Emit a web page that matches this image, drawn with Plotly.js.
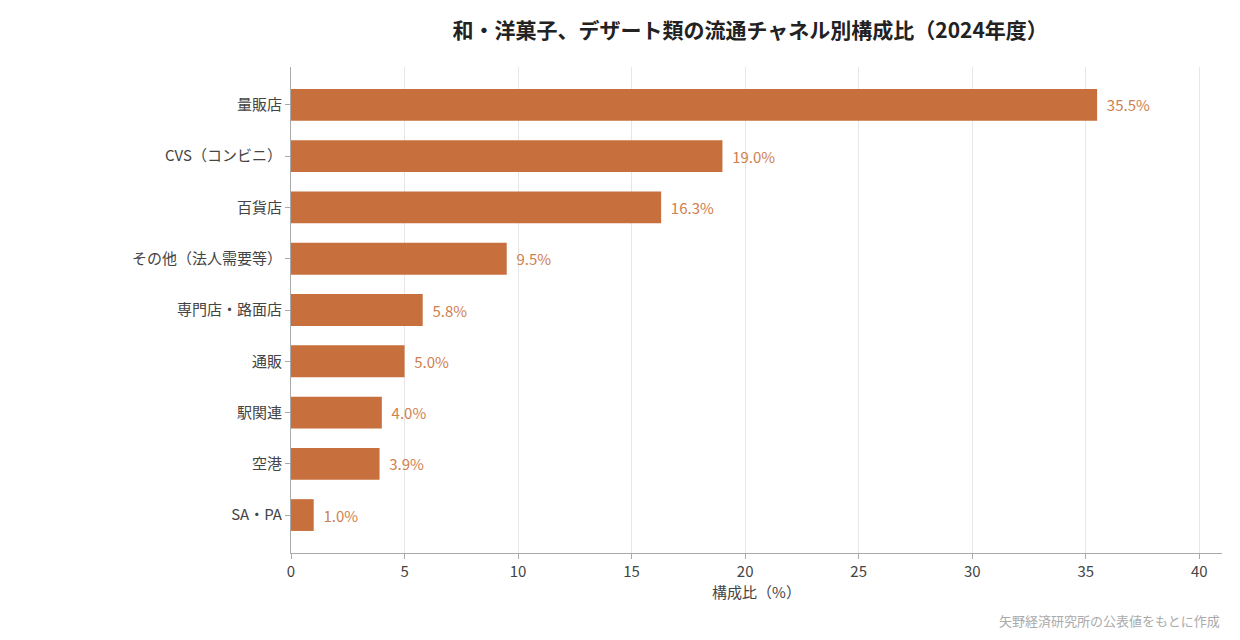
<!DOCTYPE html>
<html>
<head>
<meta charset="utf-8">
<script src="https://cdn.plot.ly/plotly-3.0.1.min.js"></script>
</head>
<body style="margin:0">
<div id="myDiv" style="width:1240px;height:640px"></div>
<script>
// 流通チャネル別構成比
var channels = ["量販店", "CVS（コンビニ）", "百貨店", "その他（法人需要等）", "専門店・路面店", "通販", "駅関連", "空港", "SA・PA"];
var shares = [35.5, 19.0, 16.3, 9.5, 5.8, 5.0, 4.0, 3.9, 1.0];
var barColor = "#C8703D";
var fontName = "Noto Sans CJK JP, Noto Sans, sans-serif";

var trace = {
  type: "bar",
  orientation: "h",
  x: shares,
  y: channels,
  width: 0.62,
  marker: {color: barColor},
  text: shares.map(function (v) { return "  " + v.toFixed(1) + "%"; }),
  textposition: "outside",
  textfont: {family: fontName, size: 15, color: "#D0804E"},
  cliponaxis: false,
  hoverinfo: "none"
};

var layout = {
  width: 1240,
  height: 640,
  margin: {l: 291, r: 18, t: 67, b: 87},
  paper_bgcolor: "white",
  plot_bgcolor: "white",
  font: {family: fontName, color: "#444", size: 15},
  title: {
    text: "<b>和・洋菓子、デザート類の流通チャネル別構成比（2024年度）</b>",
    x: 0.605, xanchor: "center", y: 0.952, yanchor: "middle",
    font: {family: fontName, size: 21, color: "#222"}
  },
  xaxis: {
    range: [0, 41],
    dtick: 5,
    showgrid: true,
    gridcolor: "#e6e6e6",
    zeroline: false,
    showline: true,
    linecolor: "#aaa",
    ticks: "outside",
    ticklen: 5,
    tickcolor: "#aaa",
    tickfont: {size: 15, color: "#444"},
    title: {text: "構成比（%）", standoff: 6, font: {size: 15, color: "#444"}}
  },
  yaxis: {
    range: [8.74, -0.74],
    showline: true,
    linecolor: "#aaa",
    ticks: "outside",
    ticklen: 5,
    tickcolor: "#aaa",
    tickfont: {size: 15, color: "#444"},
    showgrid: false
  },
  annotations: [{
    text: "矢野経済研究所の公表値をもとに作成",
    xref: "paper", yref: "paper", x: 1, y: -0.115,
    xanchor: "right", yanchor: "top", showarrow: false,
    font: {size: 13, color: "#aaa"}
  }],
  showlegend: false
};

Plotly.newPlot("myDiv", [trace], layout, {staticPlot: true});
</script>
</body>
</html>
